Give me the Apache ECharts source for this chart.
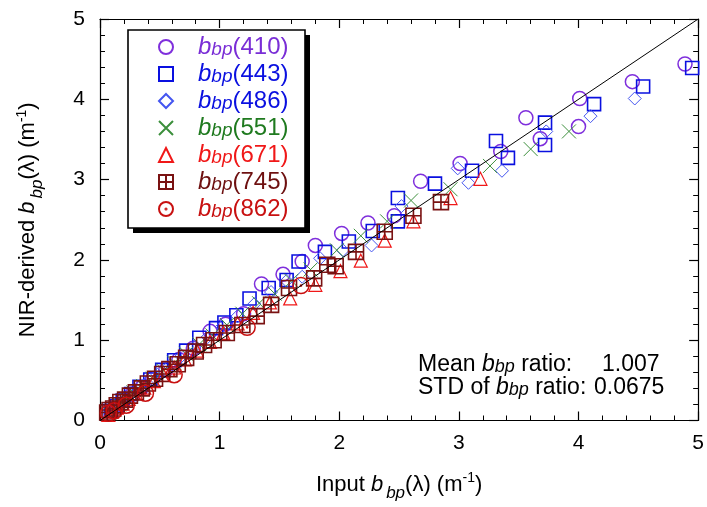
<!DOCTYPE html>
<html><head><meta charset="utf-8">
<script src="https://cdn.jsdelivr.net/npm/echarts@6/dist/echarts.min.js"></script>
<style>html,body{margin:0;padding:0;background:#fff}#c{width:707px;height:507px}</style>
</head><body><div id="c"></div>
<script>
// ---- data ----
const wavelengths = ['410','443','486','551','671','745','862'];
const xTickLabels = ['0','1','2','3','4','5'];
const yTickLabels = ['0','1','2','3','4','5'];
const oneToOne = [[0,0],[5,5]];
const bbp410 = [[0.10,0.12],[0.15,0.19],[0.20,0.26],[0.27,0.33],[0.35,0.41],[0.44,0.52],[0.55,0.63],[0.66,0.76],[0.78,0.90],[0.92,1.11],[1.05,1.20],[1.20,1.33],[1.35,1.70],[1.53,1.82],[1.69,1.98],[1.80,2.18],[2.02,2.33],[2.24,2.46],[2.46,2.55],[2.68,2.98],[3.01,3.20],[3.35,3.35],[3.56,3.77],[3.68,3.51],[4.00,3.66],[4.01,4.01],[4.45,4.22],[4.89,4.44]];
const bbp443 = [[0.09,0.12],[0.14,0.18],[0.19,0.25],[0.26,0.33],[0.33,0.42],[0.42,0.51],[0.52,0.63],[0.62,0.75],[0.72,0.87],[0.83,1.03],[0.97,1.15],[1.04,1.22],[1.14,1.31],[1.25,1.52],[1.41,1.65],[1.56,1.75],[1.66,1.98],[1.88,2.10],[2.08,2.23],[2.28,2.36],[2.49,2.48],[2.49,2.77],[2.80,2.95],[3.11,3.11],[3.31,3.48],[3.41,3.27],[3.72,3.43],[3.72,3.71],[4.13,3.94],[4.54,4.16],[4.95,4.39]];
const bbp486 = [[0.09,0.10],[0.13,0.16],[0.18,0.22],[0.24,0.30],[0.31,0.38],[0.39,0.47],[0.48,0.57],[0.58,0.68],[0.68,0.80],[0.79,0.92],[0.90,1.04],[1.02,1.17],[1.15,1.30],[1.29,1.45],[1.43,1.60],[1.56,1.74],[1.69,1.79],[1.84,2.02],[2.03,2.12],[2.27,2.18],[2.52,2.67],[2.99,3.14],[3.08,2.96],[3.36,3.11],[3.73,3.60],[4.10,3.79],[4.47,4.01]];
const bbp551 = [[0.08,0.09],[0.12,0.14],[0.16,0.20],[0.22,0.27],[0.28,0.35],[0.36,0.43],[0.44,0.52],[0.53,0.62],[0.62,0.72],[0.72,0.83],[0.83,0.95],[0.94,1.06],[1.06,1.19],[1.19,1.33],[1.33,1.46],[1.46,1.58],[1.60,1.74],[1.76,1.88],[1.98,2.12],[2.18,2.30],[2.40,2.48],[2.60,2.74],[2.93,2.88],[3.26,3.17],[3.60,3.38],[3.92,3.60]];
const bbp671 = [[0.07,0.07],[0.10,0.11],[0.14,0.16],[0.19,0.21],[0.24,0.27],[0.30,0.34],[0.37,0.41],[0.45,0.49],[0.53,0.57],[0.62,0.66],[0.71,0.76],[0.81,0.87],[0.92,0.98],[1.03,1.09],[1.15,1.21],[1.28,1.34],[1.42,1.47],[1.59,1.52],[1.80,1.69],[2.01,1.86],[2.18,1.99],[2.38,2.24],[2.62,2.48],[2.93,2.77],[3.18,3.01]];
const bbp745 = [[0.06,0.10],[0.08,0.13],[0.11,0.15],[0.14,0.19],[0.17,0.23],[0.21,0.26],[0.25,0.31],[0.30,0.35],[0.35,0.40],[0.40,0.46],[0.46,0.52],[0.52,0.58],[0.58,0.64],[0.65,0.70],[0.72,0.78],[0.80,0.86],[0.87,0.94],[0.95,1.00],[1.06,1.09],[1.19,1.19],[1.31,1.30],[1.43,1.44],[1.58,1.65],[1.79,1.77],[1.90,1.94],[1.97,1.92],[2.14,2.10],[2.38,2.35],[2.62,2.55],[2.85,2.72]];
const bbp862 = [[0.07,0.09],[0.12,0.12],[0.22,0.19],[0.38,0.34],[0.62,0.57],[1.23,1.16],[1.68,1.68]];
const seriesData = [bbp410,bbp443,bbp486,bbp551,bbp671,bbp745,bbp862];

// ---- styles ----
const colors = ['#7f2fdc','#0a10e0','#4455f0','#3c8f3c','#f01818','#7a1212','#c81010'];
const textColors = ['#7a2ed6','#0a10e0','#0a10e0','#1f7a1f','#f01818','#6e1010','#c81010'];
const symbols = ['circle','rect','diamond','path://M0,0L10,10M10,0L0,10','triangle',
  'path://M0,0H10V10H0Z M5,0V10 M0,5H10',
  'path://M10,5A5,5 0 1 1 0,5A5,5 0 1 1 10,5Z M5.4,5A0.4,0.4 0 1 1 4.6,5A0.4,0.4 0 1 1 5.4,5Z'];
const sizes = [14,13,13,14,13,15,16];
const widths = [1.5,1.6,1,1,1.2,1.6,1.5];

const FONT = 'Liberation Sans, Arial, Helvetica, sans-serif';
const names = wavelengths.map(w => 'bbp(' + w + ')');

function legendRich(i){
  const c = textColors[i];
  return {
    b:{fontStyle:'italic', fontSize:24, color:c, fontFamily:FONT, lineHeight:26},
    s:{fontStyle:'italic', fontSize:19, color:c, fontFamily:FONT, lineHeight:26, padding:[5,0,0,0]},
    n:{fontSize:24, color:c, fontFamily:FONT, lineHeight:26}
  };
}
const titleRich = {
  t:{fontSize:22,color:'#000',fontFamily:FONT,lineHeight:26},
  b:{fontSize:22,fontStyle:'italic',color:'#000',fontFamily:FONT,lineHeight:26},
  s:{fontSize:17,fontStyle:'italic',color:'#000',fontFamily:FONT,lineHeight:26,padding:[18,0,0,3]},
  p:{fontSize:14,color:'#000',fontFamily:FONT,lineHeight:26,padding:[0,0,12,0]}
};
const annRich = {
  t:{fontSize:23,fontFamily:FONT,fill:'#000',lineHeight:26},
  b:{fontSize:23,fontStyle:'italic',fontFamily:FONT,fill:'#000',lineHeight:26},
  s:{fontSize:18,fontStyle:'italic',fontFamily:FONT,fill:'#000',lineHeight:26,padding:[4,0,0,0]}
};

const series = seriesData.map((d,i) => ({
  name: names[i], type:'scatter', data:d, symbol:symbols[i], symbolSize:sizes[i],
  xAxisIndex:0, yAxisIndex:0,
  itemStyle:{color:'rgba(255,255,255,0)', borderColor:colors[i], borderWidth:widths[i], opacity:1},
  emphasis:{disabled:true}, animation:false, z:2+i
}));
series.push({type:'line', data:oneToOne, symbol:'none', lineStyle:{color:'#000', width:1}, z:20, animation:false, silent:true});

const axisCommon = {
  type:'value', min:0, max:5, interval:1,
  axisLine:{show:true, onZero:false, lineStyle:{color:'#000', width:1.2}},
  axisTick:{show:true, inside:true, length:9, lineStyle:{color:'#000', width:1.2}},
  minorTick:{show:true, splitNumber:5, length:5, lineStyle:{color:'#000', width:1}},
  splitLine:{show:false}
};

const legends = names.map((n,i) => ({
  data:[n], left:158, top:35 + 27*i, orient:'vertical',
  itemWidth:14, itemHeight:14, padding:0, z:10,
  selectedMode:false,
  textStyle:{rich:legendRich(i), padding:[0,0,0,20]},
  formatter:()=>'{b|b}{s|bp}{n|(' + wavelengths[i] + ')}'
}));

const chart = echarts.init(document.getElementById('c'), null, {renderer:'canvas'});
chart.setOption({
  animation:false,
  backgroundColor:'#fff',
  grid:{left:100, right:5, top:19, bottom:84, containLabel:false},
  xAxis:[
    Object.assign({}, axisCommon, {position:'bottom',
      axisLabel:{show:true, fontSize:21, color:'#000', fontFamily:FONT, margin:12, formatter:(v)=>xTickLabels[Math.round(v)]},
      name:'{t|Input }{b|b}{s|bp}{t|(λ) (m}{p|-1}{t|)}', nameLocation:'middle', nameGap:51,
      nameTextStyle:{rich:titleRich}
    }),
    Object.assign({}, axisCommon, {position:'top', axisLabel:{show:false}})
  ],
  yAxis:[
    Object.assign({}, axisCommon, {position:'left',
      axisLabel:{show:true, fontSize:21, color:'#000', fontFamily:FONT, margin:15, formatter:(v)=>yTickLabels[Math.round(v)]},
      name:'{t|NIR-derived }{b|b}{s|bp}{t|(λ) (m}{p|-1}{t|)}', nameLocation:'middle', nameGap:59, nameRotate:90,
      nameTextStyle:{rich:titleRich}
    }),
    Object.assign({}, axisCommon, {position:'right', axisLabel:{show:false}})
  ],
  legend:legends,
  graphic:[
    {type:'rect', z:5, shape:{x:133, y:35, width:177, height:198}, style:{fill:'#000'}},
    {type:'rect', z:6, shape:{x:128, y:30, width:177, height:198}, style:{fill:'#fff', stroke:'#000', lineWidth:1.6}},
    {type:'text', z:6, x:418, y:365, style:{rich:annRich, text:'{t|Mean }{b|b}{s|bp}{t| ratio:}', verticalAlign:'middle'}},
    {type:'text', z:6, x:602, y:365, style:{text:'1.007', font:'23px Liberation Sans, Arial, sans-serif', fill:'#000', verticalAlign:'middle'}},
    {type:'text', z:6, x:418, y:388, style:{rich:annRich, text:'{t|STD of }{b|b}{s|bp}{t| ratio:}', verticalAlign:'middle'}},
    {type:'text', z:6, x:594, y:388, style:{text:'0.0675', font:'23px Liberation Sans, Arial, sans-serif', fill:'#000', verticalAlign:'middle'}}
  ],
  series:series
});
</script>
</body></html>
